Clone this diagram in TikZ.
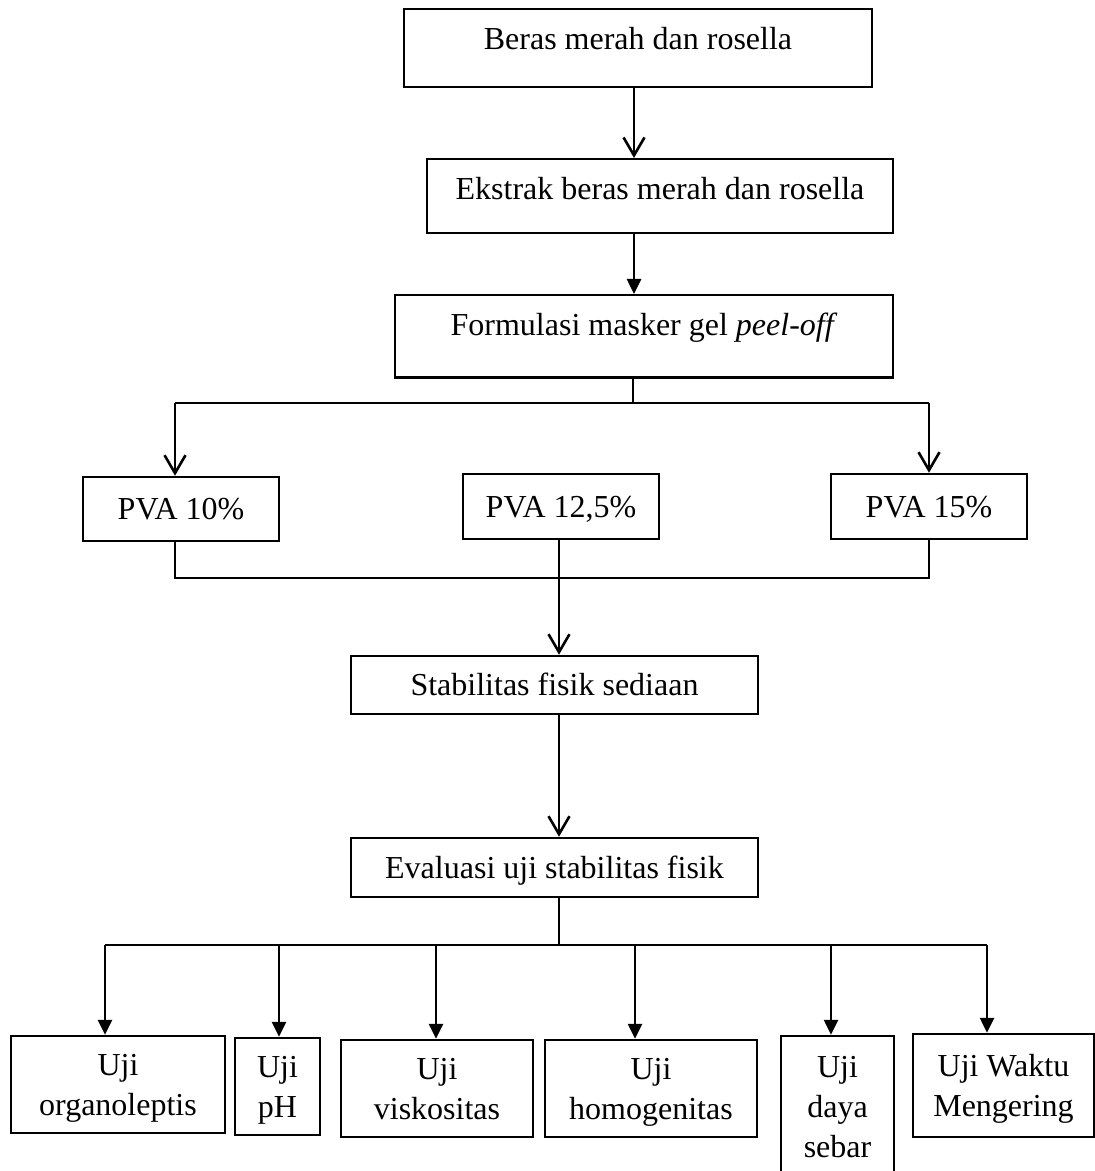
\documentclass[tikz,border=0pt]{standalone}
\usepackage{fontspec}
\setmainfont{Liberation Serif}
\usepackage{tikz}
\usetikzlibrary{arrows.meta}

\begin{document}
\begin{tikzpicture}[x=0.5pt,y=-0.5pt,
    font=\fontsize{16}{20}\selectfont,
    kotak/.style={draw,line width=1.25pt,inner sep=0pt,align=center},
    kotakatas/.style={kotak,anchor=north,text height=20pt},
    kotaktengah/.style={kotak,text height=10.6pt,text depth=0pt},
    kotakuji/.style={kotak,text depth=0pt,minimum height=48.5pt},
    garis/.style={line width=0.6pt},
    panahbuka/.style={line width=1.3pt,-{Straight Barb[length=9pt,width=10.5pt]}},
    panahisi/.style={line width=1.3pt,-{Triangle[length=7.5pt,width=7pt]}}]
    \useasboundingbox (0,0) rectangle (1095,1171);% page

    \node[kotakatas,minimum width=234pt,text depth=19pt] (bahan) at (638,8) {Beras merah dan rosella};
    \node[kotakatas,minimum width=233pt,text depth=17pt] (ekstrak) at (660,158) {Ekstrak beras merah dan rosella};
    \node[kotakatas,minimum width=249pt,text depth=21pt] (formulasi) at (644,294) {Formulasi masker gel \textit{peel-off}};

    \node[kotaktengah,minimum width=98pt,minimum height=32pt] (pva1) at (181,509) {PVA 10\%};
    \node[kotaktengah,minimum width=98pt,minimum height=32.5pt] (pva2) at (561,506.5) {PVA 12,5\%};
    \node[kotaktengah,minimum width=98pt,minimum height=32.5pt] (pva3) at (929,506.5) {PVA 15\%};

    \node[kotaktengah,minimum width=203.5pt,minimum height=29pt] (stabil) at (554.5,685) {Stabilitas fisik sediaan};
    \node[kotaktengah,minimum width=203.5pt,minimum height=29.5pt] (evaluasi) at (554.5,867.5) {Evaluasi uji stabilitas fisik};

    \node[kotakuji,minimum width=107pt] (org) at (118,1084.5) {Uji\\organoleptis};
    \node[kotakuji,minimum width=42.5pt] (ph) at (277.5,1086.5) {Uji\\pH};
    \node[kotakuji,minimum width=96pt] (visk) at (437,1088.5) {Uji\\viskositas};
    \node[kotakuji,minimum width=106pt] (homo) at (651,1088.5) {Uji\\homogenitas};
    \node[kotakuji,minimum width=56.5pt,minimum height=71pt] (daya) at (837.5,1107) {Uji\\daya\\sebar};
    \node[kotakuji,minimum width=90.5pt,minimum height=51.5pt] (waktu) at (1003.5,1085.5) {Uji Waktu\\Mengering};

    \coordinate (sumbu) at (634,0);
    \coordinate (bagi1) at (633,403);
    \coordinate (kiri1) at (175,403);
    \coordinate (kanan1) at (929,403);
    \coordinate (kiri2) at (175,578);
    \coordinate (kanan2) at (929,578);
    \coordinate (tengah) at (559,0);
    \coordinate (sambung) at (559,760);
    \coordinate (bagi3) at (559,945);
    \coordinate (kiri3) at (105,945);
    \coordinate (kanan3) at (987,945);

    \draw[panahbuka] (bahan.south -| sumbu) -- (ekstrak.north -| sumbu);% bahan -> ekstrak
    \draw[panahisi] (ekstrak.south -| sumbu) -- (formulasi.north -| sumbu);% ekstrak -> formulasi

    \draw[garis] (formulasi.south -| bagi1) -- (bagi1);% cabang PVA
    \draw[line width=0.8pt] (kiri1) -- (kanan1);
    \draw[panahbuka] (kiri1) -- (kiri1 |- pva1.north);
    \draw[panahbuka] (kanan1) -- (kanan1 |- pva3.north);

    \draw[garis] (pva1.south -| kiri2) -- (kiri2) -- (kanan2) -- (pva3.south -| kanan2);% gabung
    \draw[panahbuka] (pva2.south -| tengah) -- (stabil.north -| tengah);

    \draw[garis] (stabil.south -| tengah) -- (sambung);
    \draw[panahbuka] (sambung) -- (evaluasi.north -| tengah);

    \draw[garis] (evaluasi.south -| tengah) -- (bagi3);% cabang uji
    \draw[line width=0.9pt] (kiri3) -- (kanan3);
    \foreach \x/\n in {105/org,279/ph,436/visk,635/homo,831/daya,987/waktu}{
        \coordinate (u\n) at (\x,945);
        \draw[panahisi] (u\n) -- (u\n |- \n.north);
    }
\end{tikzpicture}
\end{document}
